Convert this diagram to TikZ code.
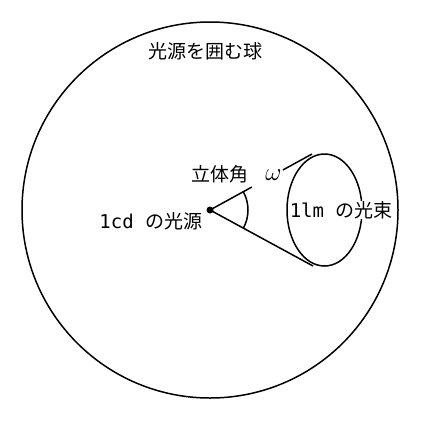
\documentclass[tikz,border=0pt]{standalone}
\usepackage{fontspec}
\setmainfont{Noto Sans CJK JP}
\setmonofont{DejaVu Sans Mono}
\usepackage{tikz}
\usetikzlibrary{calc,positioning}

\tikzset{
	lbl/.style={inner sep=0pt, fill=white, font=\fontsize{19}{23}\selectfont},
}

\begin{document}
\begin{tikzpicture}[x=1pt, y=-1pt, line width=1.5pt]

			\useasboundingbox (0, 0) rectangle (425, 421);

			\coordinate (E) at (324.5, 210);
			\coordinate (T) at (312, 154);
			\coordinate (B) at (313, 266);

			% sphere and cone
			\draw (210, 210) circle (188pt);
			\draw (E) ellipse (37.5pt and 56pt);

			\node[circle, fill, inner sep=0pt, minimum size=7pt] (src) at (210, 210) {};

			\draw (src.center) -- ($(src.center)!0.41!(T)$);
			\draw ($(src.center)!0.716!(T)$) -- (T);
			\draw (src.center) -- (B);
			\draw ($(src.center)+(28.5:38)$) arc[start angle=-28.5, end angle=28.5, radius=38pt];

			% labels
			\node[inner sep=0pt, font=\fontsize{24}{28}\selectfont] (w) at (273.5, 175) {$\omega$};
			\node[lbl] (sphere) at (205.5, 51) {光源を囲む球};
			\node[lbl] (solid) at (220, 174.5) {立体角};
			\node[lbl, anchor=east] (cd) at (203, 221) {\texttt{1cd }の光源};
			\node[lbl, anchor=west] (lm) at (289, 210) {\texttt{1lm }の光束};

		\end{tikzpicture}
\end{document}
